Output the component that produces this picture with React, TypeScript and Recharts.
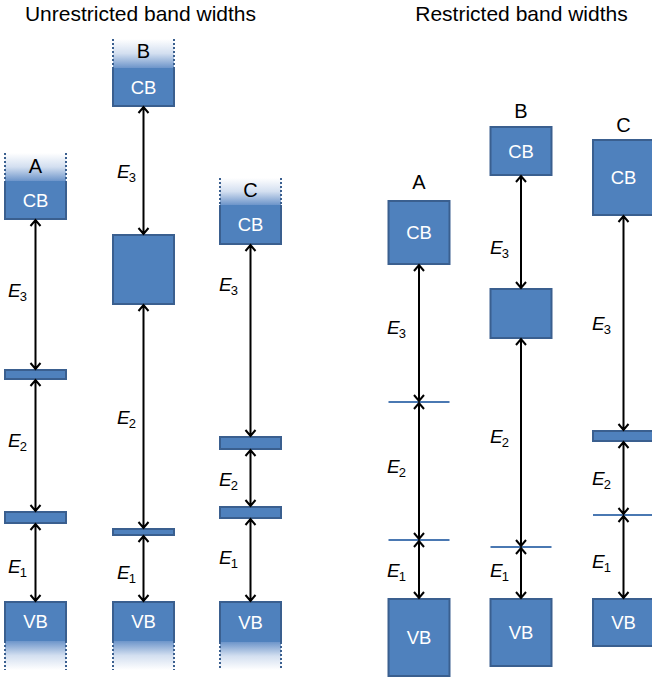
import React from 'react';
import { ComposedChart, XAxis, YAxis, ReferenceArea, ReferenceLine, ReferenceDot } from 'recharts';

// ---------------- data (energies in arbitrary units, bands as [bottom, top]) ----------------
const panelTitles = ['Unrestricted band widths', 'Restricted band widths'];
const columnNames = ['A', 'B', 'C'];
const gapNames = ['1', '2', '3'];

// Unrestricted band widths
const unrVB = [[0.29, 0.68], [0.29, 0.68], [0.28, 0.68]];
const unrVBTail = [0.0, 0.0, 0.0];
const unrL1 = [[1.47, 1.58], [1.35, 1.41], [1.52, 1.63]];
const unrL2 = [[2.91, 3.0], [3.66, 4.35], [2.21, 2.33]];
const unrCB = [[4.51, 4.89], [5.64, 6.02], [4.26, 4.65]];
const unrCBTail = [5.17, 6.31, 4.92];
const unrGapLabelE = [[1.04, 2.305, 3.8], [0.98, 2.53, 4.995], [1.13, 1.91, 3.86]];
const unrLetterE = [4.97, 6.12, 4.73];

// Restricted band widths
const resVB = [[-0.06, 0.71], [0.04, 0.71], [0.24, 0.71]];
const resL1 = [[1.3, 1.3], [1.23, 1.23], [1.55, 1.55]];
const resL2 = [[2.68, 2.68], [3.32, 3.81], [2.29, 2.39]];
const resCB = [[4.06, 4.69], [4.95, 5.43], [4.55, 5.3]];
const resGapLabelE = [[1.005, 2.04, 3.435], [1.005, 2.345, 4.23], [1.09, 1.92, 3.475]];
const resLetterE = [4.81, 5.52, 5.38];

const titleE = 6.49;

// ---------------- layout / style ----------------
const W = 652;
const H = 679;
const Y_DOMAIN = [-0.09, 6.7];
const colX = [[35.5, 143.5, 250.5], [419, 521, 623.5]];
const labelX = [[8, 117, 219], [387, 490, 592]];
const titleX = [140.5, 521.5];
const HALF = 30.5;
const FONT = '"Liberation Sans", Arial, Helvetica, sans-serif';
const BLUE = '#4F81BD';
const EDGE = '#3A5F8F';
const LINE_BLUE = '#4A78B2';

type Col = {
  name: string;
  x: number;
  lx: number;
  bands: number[][];
  vbTail: number | null;
  cbTail: number | null;
  gapE: number[];
  letterE: number;
};

const buildCols = (): Col[] => {
  const cols: Col[] = [];
  columnNames.forEach((n, i) => {
    cols.push({
      name: n,
      x: colX[0][i],
      lx: labelX[0][i],
      bands: [unrVB[i], unrL1[i], unrL2[i], unrCB[i]],
      vbTail: unrVBTail[i],
      cbTail: unrCBTail[i],
      gapE: unrGapLabelE[i],
      letterE: unrLetterE[i],
    });
  });
  columnNames.forEach((n, i) => {
    cols.push({
      name: n,
      x: colX[1][i],
      lx: labelX[1][i],
      bands: [resVB[i], resL1[i], resL2[i], resCB[i]],
      vbTail: null,
      cbTail: null,
      gapE: resGapLabelE[i],
      letterE: resLetterE[i],
    });
  });
  return cols;
};

const cols = buildCols();

const boxShape = (label?: string) => (p: any) => (
  <g>
    <rect x={p.x} y={p.y} width={p.width} height={p.height} fill={BLUE} stroke={EDGE} strokeWidth={2} />
    {label ? (
      <text
        x={p.x + p.width / 2}
        y={p.y + p.height / 2 + 6.6}
        textAnchor="middle"
        fill="#fff"
        fontFamily={FONT}
        fontSize={18.5}
      >
        {label}
      </text>
    ) : null}
  </g>
);

// fade region on top (CB) or bottom (VB); solidFrac = fraction of the area that is solid
const fadeShape = (label: string, solidFrac: number, fadeOnTop: boolean, id: string) => (p: any) => {
  const solidH = p.height * solidFrac;
  const fadeH = p.height - solidH;
  const x = p.x;
  const w = p.width;
  const solidY = fadeOnTop ? p.y + fadeH : p.y;
  const fadeY = fadeOnTop ? p.y : p.y + solidH;
  const solidPath = fadeOnTop
    ? `M ${x} ${solidY} V ${solidY + solidH} H ${x + w} V ${solidY}`
    : `M ${x} ${solidY + solidH} V ${solidY} H ${x + w} V ${solidY + solidH}`;
  const dotPath = `M ${x} ${fadeY} V ${fadeY + fadeH} M ${x + w} ${fadeY} V ${fadeY + fadeH}`;
  return (
    <g>
      <defs>
        <linearGradient id={id} x1="0" y1={fadeOnTop ? '1' : '0'} x2="0" y2={fadeOnTop ? '0' : '1'}>
          <stop offset="0" stopColor="#6D95CA" />
          <stop offset="0.5" stopColor="#D3DFF0" />
          <stop offset="1" stopColor="#FFFFFF" />
        </linearGradient>
      </defs>
      <rect x={x} y={fadeY} width={w} height={fadeH} fill={`url(#${id})`} />
      <rect x={x} y={solidY} width={w} height={solidH} fill={BLUE} />
      <path d={solidPath} stroke={EDGE} strokeWidth={2} fill="none" />
      <path d={dotPath} stroke={EDGE} strokeWidth={2} strokeDasharray="2 2" fill="none" />
      <text
        x={x + w / 2}
        y={solidY + solidH / 2 + 6.6}
        textAnchor="middle"
        fill="#fff"
        fontFamily={FONT}
        fontSize={18.5}
      >
        {label}
      </text>
    </g>
  );
};

const arrowShape = (p: any) => {
  const x = p.x1;
  const top = Math.min(p.y1, p.y2) + 1;
  const bot = Math.max(p.y1, p.y2) - 1;
  const hw = 5;
  const hh = 6;
  const d =
    `M ${x} ${top} V ${bot} ` +
    `M ${x - hw} ${top + hh} L ${x} ${top} L ${x + hw} ${top + hh} ` +
    `M ${x - hw} ${bot - hh} L ${x} ${bot} L ${x + hw} ${bot - hh}`;
  return <path d={d} stroke="#000" strokeWidth={2} fill="none" strokeLinejoin="miter" />;
};

const levelLineShape = (p: any) => (
  <line x1={p.x1} y1={p.y1} x2={p.x2} y2={p.y2} stroke={LINE_BLUE} strokeWidth={2.2} />
);

const eLabelShape = (sub: string) => (p: any) => (
  <text x={p.cx} y={p.cy + 7} fontFamily={FONT} fontSize={19} fill="#000">
    <tspan fontStyle="italic">E</tspan>
    <tspan fontSize={13} dy={4} dx={-1}>
      {sub}
    </tspan>
  </text>
);

const textShape = (txt: string, size: number) => (p: any) => (
  <text x={p.cx} y={p.cy} textAnchor="middle" fontFamily={FONT} fontSize={size} fill="#000">
    {txt}
  </text>
);

export default function App() {
  const elems: React.ReactNode[] = [];

  panelTitles.forEach((t, i) => {
    elems.push(
      <ReferenceDot
        key={`title-${i}`}
        x={titleX[i]}
        y={titleE}
        ifOverflow="visible"
        shape={textShape(t, 21)}
      />
    );
  });

  cols.forEach((c, ci) => {
    const x1 = c.x - HALF;
    const x2 = c.x + HALF;
    const [vb, l1, l2, cb] = c.bands;

    // valence band
    if (c.vbTail !== null) {
      const frac = (vb[1] - vb[0]) / (vb[1] - c.vbTail);
      elems.push(
        <ReferenceArea
          key={`vb-${ci}`}
          x1={x1}
          x2={x2}
          y1={c.vbTail}
          y2={vb[1]}
          ifOverflow="visible"
          shape={fadeShape('VB', frac, false, `gvb${ci}`)}
        />
      );
    } else {
      elems.push(
        <ReferenceArea key={`vb-${ci}`} x1={x1} x2={x2} y1={vb[0]} y2={vb[1]} ifOverflow="visible" shape={boxShape('VB')} />
      );
    }

    // intermediate levels
    [l1, l2].forEach((lv, li) => {
      if (lv[0] === lv[1]) {
        elems.push(
          <ReferenceLine
            key={`lv-${ci}-${li}`}
            segment={[{ x: x1, y: lv[0] }, { x: x2, y: lv[0] }]}
            ifOverflow="visible"
            shape={levelLineShape}
          />
        );
      } else {
        elems.push(
          <ReferenceArea key={`lv-${ci}-${li}`} x1={x1} x2={x2} y1={lv[0]} y2={lv[1]} ifOverflow="visible" shape={boxShape()} />
        );
      }
    });

    // conduction band
    if (c.cbTail !== null) {
      const frac = (cb[1] - cb[0]) / (c.cbTail - cb[0]);
      elems.push(
        <ReferenceArea
          key={`cb-${ci}`}
          x1={x1}
          x2={x2}
          y1={cb[0]}
          y2={c.cbTail}
          ifOverflow="visible"
          shape={fadeShape('CB', frac, true, `gcb${ci}`)}
        />
      );
    } else {
      elems.push(
        <ReferenceArea key={`cb-${ci}`} x1={x1} x2={x2} y1={cb[0]} y2={cb[1]} ifOverflow="visible" shape={boxShape('CB')} />
      );
    }

    // arrows and gap labels
    for (let g = 0; g < 3; g++) {
      const from = c.bands[g][1];
      const to = c.bands[g + 1][0];
      elems.push(
        <ReferenceLine
          key={`ar-${ci}-${g}`}
          segment={[{ x: c.x, y: from }, { x: c.x, y: to }]}
          ifOverflow="visible"
          shape={arrowShape}
        />
      );
      elems.push(
        <ReferenceDot
          key={`el-${ci}-${g}`}
          x={c.lx}
          y={c.gapE[g]}
          ifOverflow="visible"
          shape={eLabelShape(gapNames[g])}
        />
      );
    }

    // column letter
    elems.push(
      <ReferenceDot key={`lt-${ci}`} x={c.x} y={c.letterE} ifOverflow="visible" shape={textShape(c.name, 20)} />
    );
  });

  return (
    <div style={{ position: 'absolute', left: 0, top: 0, width: W, height: H, background: '#fff' }}>
      <ComposedChart width={W} height={H} data={[]} margin={{ top: 0, right: 0, bottom: 0, left: 0 }}>
        <XAxis type="number" dataKey="x" domain={[0, W]} allowDataOverflow hide />
        <YAxis type="number" domain={Y_DOMAIN} allowDataOverflow hide />
        {elems}
      </ComposedChart>
    </div>
  );
}
